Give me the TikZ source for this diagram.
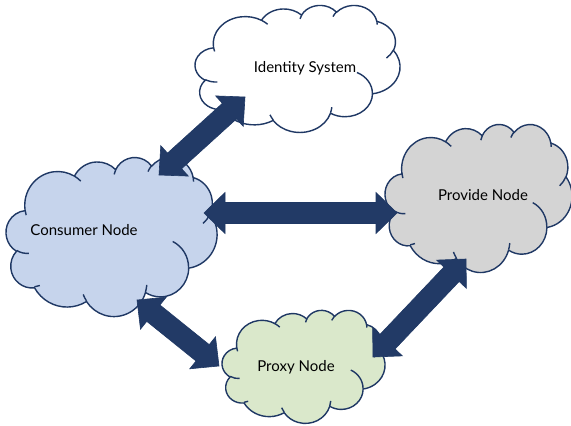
\documentclass[tikz,border=0pt]{standalone}
\usepackage{fontspec}
\setmainfont{Lato}
\usetikzlibrary{calc}

\definecolor{edgenavy}{HTML}{1F3864}
\definecolor{arrownavy}{HTML}{223A66}
\definecolor{consumerblue}{HTML}{C6D4EC}
\definecolor{providegrey}{HTML}{D4D4D4}
\definecolor{proxygreen}{HTML}{DAE8CB}

% elliptic arc given by radii, start direction and sweep (direction angles)
\newcommand\cloudarc[4]{arc[x radius=#1, y radius=#2,
  start angle={atan2((#1)*sin(#3),(#2)*cos(#3))},
  delta angle={mod(atan2((#1)*sin((#3)+(#4)),(#2)*cos((#3)+(#4)))-atan2((#1)*sin(#3),(#2)*cos(#3))+720,360)}]}

% cloud outline in a 43.2 x 43.2 frame: x, y (top left), width, height, fill
\newcommand\puffcloud[5]{%
\begin{scope}[shift={(#1,#2)}, xscale=#3/43.2, yscale=#4/43.2]
  \filldraw[cloudedge, fill=#5] (3.900,14.370)
    \cloudarc{6.753}{9.190}{-190.487}{123.781}
    \cloudarc{5.333}{7.267}{-144.102}{89.945}
    \cloudarc{4.365}{5.945}{-145.808}{99.723}
    \cloudarc{4.857}{6.595}{-130.986}{117.242}
    \cloudarc{5.333}{7.273}{-78.709}{109.027}
    \cloudarc{6.775}{9.220}{-46.267}{130.269}
    \cloudarc{5.785}{7.867}{0.625}{114.033}
    \cloudarc{6.752}{9.215}{22.452}{115.173}
    \cloudarc{7.720}{10.543}{66.243}{75.233}
    \cloudarc{4.360}{5.918}{-274.942}{146.736}
    \cloudarc{4.345}{5.945}{-246.829}{152.519} -- cycle;
  \draw[cloudedge]
    (4.693,26.177) \cloudarc{4.345}{5.945}{86.742}{26.430}
    (6.928,34.899) \cloudarc{4.360}{5.918}{73.610}{11.447}
    (16.478,39.090) \cloudarc{6.752}{9.215}{137.624}{14.081}
    (28.827,34.751) \cloudarc{6.752}{9.215}{6.453}{15.998}
    (34.129,22.954) \cloudarc{5.785}{7.867}{-70.292}{70.917}
    (41.798,15.354) \cloudarc{5.333}{7.273}{30.318}{27.752}
    (38.324,5.426) \cloudarc{4.857}{6.595}{-13.744}{14.859}
    (29.078,3.952) \cloudarc{4.857}{6.595}{-149.181}{18.195}
    (22.141,4.720) \cloudarc{4.365}{5.945}{-163.494}{17.686}
    (14.000,5.192) \cloudarc{6.753}{9.190}{-66.707}{12.319}
    (4.127,15.789) \cloudarc{6.753}{9.190}{157.654}{11.858};
\end{scope}}

% thick double-headed block arrow between two named points
\newcommand\blockarrow[2]{%
  \filldraw[blockarrowstyle] (#1)
    -- ($(#1)!21pt!(#2)!20.5pt!90:(#2)$)
    -- ($(#1)!21pt!(#2)!10.5pt!90:(#2)$)
    -- ($(#2)!21pt!(#1)!10.5pt!-90:(#1)$)
    -- ($(#2)!21pt!(#1)!20.5pt!-90:(#1)$)
    -- (#2)
    -- ($(#2)!21pt!(#1)!20.5pt!90:(#1)$)
    -- ($(#2)!21pt!(#1)!10.5pt!90:(#1)$)
    -- ($(#1)!21pt!(#2)!10.5pt!-90:(#2)$)
    -- ($(#1)!21pt!(#2)!20.5pt!-90:(#2)$)
    -- cycle;}

\tikzset{
  cloudedge/.style={draw=edgenavy, line width=1.4pt, line join=round},
  blockarrowstyle/.style={fill=arrownavy, draw=edgenavy, line width=0.6pt, line join=miter},
  cloudtext/.style={font=\fontsize{15}{18}\selectfont, text=black, inner sep=0pt}
}

\begin{document}
\begin{tikzpicture}[x=1pt, y=-1pt]
  \useasboundingbox[fill=white] (0,0) rectangle (571,426);

  % clouds
  \puffcloud{195}{5}{205}{127}{white}
  \puffcloud{6}{157}{211}{159}{consumerblue}
  \puffcloud{385}{124}{187}{148}{providegrey}
  \puffcloud{222}{310}{163}{113}{proxygreen}

  % labels
  \node[cloudtext] (identity) at (305,68) {Identity System};
  \node[cloudtext] (consumer) at (84,230) {Consumer Node};
  \node[cloudtext] (provide) at (483,195) {Provide Node};
  \node[cloudtext] (proxy) at (296,367) {Proxy Node};

  % arrow end points
  \coordinate (ic-a) at (159,175);
  \coordinate (ic-b) at (245,97);
  \coordinate (cp-a) at (204,213);
  \coordinate (cp-b) at (397,213);
  \coordinate (cx-a) at (137,300);
  \coordinate (cx-b) at (219,366);
  \coordinate (xp-a) at (373,357);
  \coordinate (xp-b) at (466,259);

  % connections
  \blockarrow{ic-a}{ic-b}
  \blockarrow{cp-a}{cp-b}
  \blockarrow{cx-a}{cx-b}
  \blockarrow{xp-a}{xp-b}
\end{tikzpicture}
\end{document}
